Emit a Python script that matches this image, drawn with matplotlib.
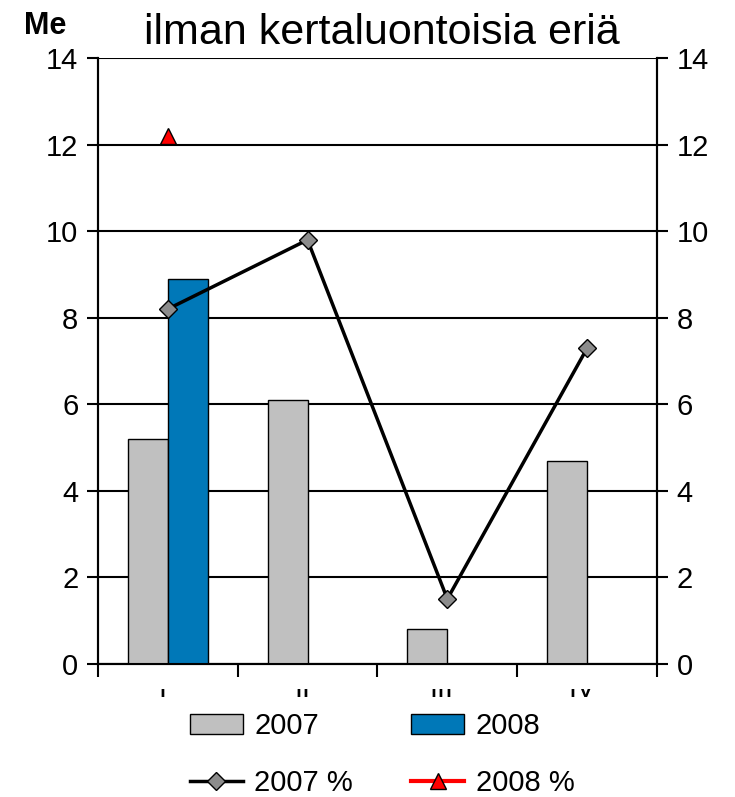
import matplotlib.pyplot as plt
from matplotlib.lines import Line2D
from matplotlib.patches import Patch
from matplotlib.transforms import Bbox, TransformedBbox

plt.rcParams['font.family'] = ['Liberation Sans', 'DejaVu Sans']

quarters = ['I', 'II', 'III', 'IV']
me_2007 = [5.2, 6.1, 0.8, 4.7]
me_2008 = [8.9]
pct_2007 = [8.2, 9.8, 1.5, 7.3]
pct_2008 = [12.2]

fig = plt.figure(figsize=(7.35, 7.97), dpi=100)
ax = fig.add_axes([0.133, 0.167, 0.761, 0.760])
ax2 = ax.twinx()

x = list(range(len(quarters)))
w = 0.286
ax.bar([i - w / 2 for i in x], me_2007, w, color='#C0C0C0', edgecolor='black', lw=1, zorder=3)
ax.bar([i + w / 2 for i in x[:len(me_2008)]], me_2008, w, color='#0078B8', edgecolor='black', lw=1, zorder=3)

ax2.plot(x, pct_2007, color='black', lw=2.5, marker='D', ms=9, mfc='#8C8C8C', mec='black', mew=1, zorder=4)
ax2.plot(x[:len(pct_2008)], pct_2008, color='red', lw=3, marker='^', ms=11, mfc='red', mec='black', mew=1, ls='none', zorder=4)

for a in (ax, ax2):
    a.set_ylim(0, 14)
    a.set_yticks(range(0, 15, 2))
    a.tick_params(axis='y', direction='out', length=8, width=1.5, labelsize=21, pad=6)
    for s in a.spines.values():
        s.set_linewidth(1.5)
    a.spines['top'].set_visible(False)
ax.set_xlim(-0.5, len(quarters) - 0.5)
ax.yaxis.grid(True, color='black', lw=1.5, zorder=0)
ax.set_axisbelow(True)

ax.set_xticks([i - 0.5 for i in range(len(quarters) + 1)])
ax.set_xticklabels([])
ax.tick_params(axis='x', which='major', direction='out', length=9, width=1.5)
ax.set_xticks([i - 0.04 for i in x], quarters, minor=True)
ax.tick_params(axis='x', which='minor', length=0, labelsize=21, pad=8)
clip = TransformedBbox(Bbox([[0, 0.109], [1, 0.1355]]), fig.transFigure)
for lab in ax.get_xticklabels(minor=True):
    lab.set_clip_on(True)
    lab.set_clip_box(clip)

fig.text(0.519, 0.945, 'ilman kertaluontoisia eriä', ha='center', va='baseline', fontsize=31)
fig.text(0.061, 0.968, 'Me', ha='center', va='center', fontsize=22, fontweight='bold')

handles = [
    Patch(facecolor='#C0C0C0', edgecolor='black', lw=1),
    Line2D([], [], color='black', lw=2.5, marker='D', ms=9, mfc='#8C8C8C', mec='black'),
    Patch(facecolor='#0078B8', edgecolor='black', lw=1),
    Line2D([], [], color='red', lw=3, marker='^', ms=11, mfc='red', mec='black'),
]
labels = ['2007', '2007 %', '2008', '2008 %']
fig.legend(handles, labels, ncol=2, loc='center', bbox_to_anchor=(0.52, 0.053), frameon=False,
           fontsize=21, handlelength=1.8, handletextpad=0.4, columnspacing=2.0, labelspacing=1.0)

fig.savefig('out.png', dpi=100)
